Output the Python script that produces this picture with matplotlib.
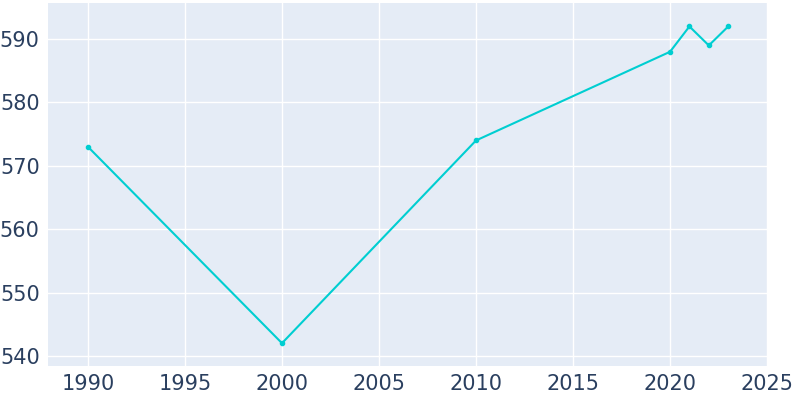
import matplotlib.pyplot as plt

years = [1990, 2000, 2010, 2020, 2021, 2022, 2023]
population = [573, 542, 574, 588, 592, 589, 592]

fig = plt.figure(figsize=(8, 4), dpi=100)
ax = fig.add_axes([48 / 800, 34 / 400, 720 / 800, 363 / 400])
ax.set_facecolor('#E5ECF6')
ax.plot(years, population, color='#00CED1', linewidth=1.5, marker='o', markersize=3)

ax.set_xlim(1987.94, 2025.05)
ax.set_ylim(538.4, 595.7)
ax.set_xticks(range(1990, 2026, 5))
ax.set_yticks(range(540, 591, 10))
ax.grid(True, color='white', linewidth=1)
ax.set_axisbelow(True)
for s in ax.spines.values():
    s.set_visible(False)
ax.tick_params(length=0, labelsize=15, labelcolor='#2a3f5f', pad=6)

fig.savefig('out.png', dpi=100)
